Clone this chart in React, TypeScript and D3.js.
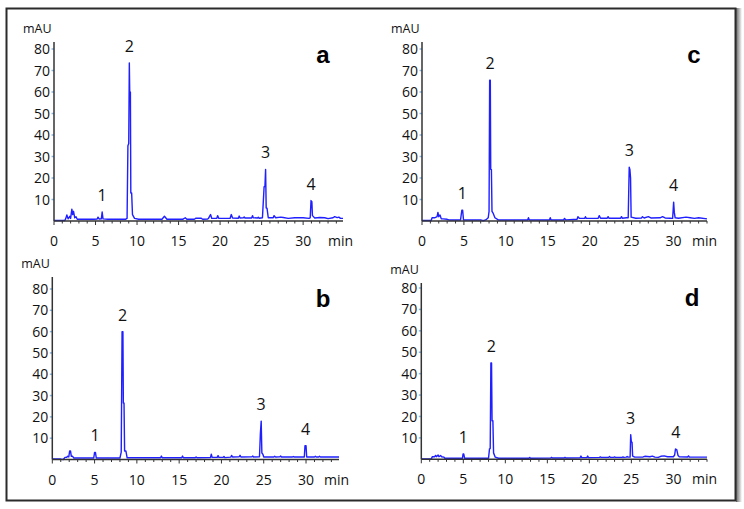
import React, { useEffect, useRef } from 'react';
import * as d3 from 'd3';

// Chromatogram traces: [time (min), absorbance (mAU)]
const traceA: [number, number][] = [
  [0, 0.2], [1.3, 0.2], [1.4, 1], [1.55, 2.8], [1.7, 1], [1.9, 2.2], [2.0, 1.2], [2.15, 5.5], [2.25, 3],
  [2.35, 4.5], [2.5, 1.5], [2.65, 2], [2.8, 0.8], [4.8, 0.8], [5.2, 0.9], [5.3, 1.8], [5.45, 0.9],
  [5.7, 1], [5.8, 4.2], [5.9, 1], [6.5, 0.8], [8.6, 0.8], [8.8, 1.2], [8.9, 35], [9.0, 36], [9.07, 73.5],
  [9.12, 60], [9.2, 60], [9.25, 13], [9.35, 13], [9.45, 3], [9.7, 1.2], [10.2, 0.8], [13.0, 0.8],
  [13.3, 2.2], [13.6, 0.8], [15.5, 0.8], [15.8, 1.5], [16.0, 0.8], [16.9, 0.8], [17.1, 1.3], [17.7, 1.3],
  [17.9, 0.8], [18.5, 0.9], [18.6, 1.2], [18.85, 3], [19.0, 1.2], [19.6, 1.2], [19.7, 2.5], [19.85, 1.2],
  [21.2, 1.2], [21.35, 3], [21.5, 1.4], [22.2, 1.3], [22.3, 2.3], [22.4, 1.4], [22.8, 1.5], [22.9, 1.9],
  [23.0, 1.4], [23.8, 1.4], [23.9, 2.5], [24.0, 1.5], [24.5, 1.4], [24.6, 1.8], [24.7, 1.3], [25.1, 1.5],
  [25.3, 16], [25.4, 16], [25.48, 24], [25.55, 6], [25.65, 6], [25.8, 1.5], [26.4, 1.5], [26.5, 2.5],
  [26.7, 1.5], [27.3, 1.8], [27.6, 1.6], [28.2, 1.2], [29, 1.5], [30, 1.5], [30.7, 1.2], [30.85, 1.5],
  [30.95, 9.5], [31.05, 9], [31.12, 2.5], [31.4, 1.4], [32, 1.6], [32.6, 1.5], [33, 1.1], [33.6, 1.5],
  [33.8, 2], [34.1, 1.6], [34.3, 1.8], [34.5, 1.2], [34.8, 1.2],
];

const traceB: [number, number][] = [
  [0, 0.2], [1.0, 0.2], [1.3, 0], [1.5, 1], [1.7, 1], [1.8, 1.5], [1.95, 1.2], [2.05, 4], [2.15, 4],
  [2.25, 1.5], [2.4, 1.5], [2.55, 0.7], [4.9, 0.7], [5.0, 3.3], [5.1, 3.3], [5.2, 0.7], [8.0, 0.7],
  [8.15, 3.5], [8.25, 60], [8.35, 60], [8.4, 26.5], [8.48, 26.5], [8.55, 4], [8.7, 4], [8.85, 0.8],
  [12.8, 0.8], [12.9, 1.6], [13.0, 0.8], [15.3, 0.8], [15.4, 1.6], [15.5, 0.8], [16.9, 0.8], [17.0, 1.2],
  [17.1, 0.8], [18.7, 0.9], [18.8, 2.5], [18.9, 1], [19.5, 1], [19.6, 1.8], [19.7, 1], [20.2, 1],
  [20.3, 1.4], [20.4, 0.9], [21.1, 1.1], [21.2, 1.9], [21.3, 1.2], [22.1, 1.3], [22.2, 2], [22.3, 1.2],
  [23.6, 1.3], [23.7, 1.6], [23.8, 1.2], [24.5, 1.3], [24.6, 12], [24.7, 18], [24.78, 3], [24.9, 2.5],
  [25.0, 1.2], [26.2, 1.2], [26.3, 1.5], [26.4, 1.2], [26.9, 1.3], [27.0, 1.6], [27.1, 1.2], [28.4, 1.2],
  [28.5, 1.4], [28.6, 1.2], [29.8, 1.2], [29.88, 6.5], [30.0, 6.5], [30.08, 1.2], [31.0, 1.2], [31.1, 1.5],
  [31.2, 1.2], [31.5, 1.2], [31.6, 1.5], [31.7, 1.2], [33.9, 1.2],
];

const traceC: [number, number][] = [
  [0, 0.2], [1.1, 0.2], [1.2, 1.5], [1.5, 1.5], [1.8, 2], [1.9, 4], [2.0, 2], [2.15, 2.8], [2.3, 1],
  [2.5, 1], [3.0, 0.8], [3.2, 0.5], [4.6, 0.5], [4.75, 5], [4.85, 5], [4.95, 0.5], [7.0, 0.5], [7.3, 0.1],
  [7.6, 0.5], [7.9, 1.5], [8.0, 4.5], [8.07, 65.5], [8.15, 65.5], [8.2, 24], [8.28, 24], [8.35, 4.5],
  [8.5, 3.5], [8.7, 1.5], [9.1, 0.5], [12.6, 0.5], [12.7, 1.5], [12.8, 0.5], [15.2, 0.5], [15.3, 1.5],
  [15.4, 0.5], [16.9, 0.5], [17.0, 1.2], [17.2, 0.5], [18.5, 0.8], [18.6, 2], [18.8, 1.2], [19.4, 1.2],
  [19.5, 2], [19.6, 1.2], [21.0, 1.2], [21.15, 2.5], [21.3, 1.3], [22.1, 1.3], [22.2, 2], [22.3, 1.3],
  [23.7, 1.3], [23.8, 2], [23.9, 1.3], [24.4, 1.5], [24.6, 1.5], [24.72, 25], [24.8, 24], [24.88, 20],
  [24.95, 1.8], [25.5, 1.3], [26.2, 1.4], [26.3, 2], [26.5, 1.4], [27.0, 2], [27.3, 1.4], [28.4, 1.5],
  [28.7, 2], [29, 1.4], [29.6, 1.3], [29.9, 1.2], [30.02, 8.8], [30.1, 4], [30.2, 1.5], [30.6, 1.3],
  [31.5, 1.8], [32, 1.5], [32.5, 1.2], [33, 1.5], [34, 1],
];

const traceD: [number, number][] = [
  [0, 0.2], [1.2, 0.2], [1.3, 1.2], [1.6, 1.2], [1.7, 1.8], [1.8, 1.2], [2.0, 2], [2.1, 1.2], [2.3, 1.8],
  [2.4, 1.2], [2.7, 1], [2.8, 0.5], [4.9, 0.5], [4.97, 2.5], [5.05, 2.5], [5.15, 0.5], [8.0, 0.5],
  [8.12, 5], [8.2, 5], [8.28, 45], [8.36, 45], [8.42, 18], [8.52, 18], [8.6, 3], [8.8, 1], [9.2, 0.5],
  [12.8, 0.5], [12.9, 0.9], [13.0, 0.5], [15.4, 0.6], [15.5, 0.9], [15.6, 0.6], [17.0, 0.6], [17.1, 0.9],
  [17.2, 0.6], [18.9, 0.7], [19.0, 1.5], [19.1, 0.8], [19.7, 0.8], [19.8, 1.5], [19.9, 0.8], [21.2, 0.9],
  [21.3, 1.1], [21.4, 0.9], [22.3, 0.9], [22.4, 1.3], [22.5, 0.9], [22.9, 0.9], [23.0, 1.1], [23.1, 0.9],
  [23.9, 0.9], [24.0, 1.1], [24.1, 0.9], [24.4, 1], [24.5, 1.3], [24.6, 1], [24.85, 1], [24.92, 11.5],
  [25.0, 8], [25.08, 8], [25.15, 1.5], [25.4, 1], [26.4, 1.1], [26.6, 1.4], [27.2, 1.2], [27.5, 1.5],
  [27.8, 1], [28.2, 0.9], [28.5, 1.4], [28.9, 1.6], [29.3, 1.2], [30.0, 1.2], [30.15, 2], [30.25, 4.8],
  [30.4, 4.5], [30.55, 1.8], [30.7, 1.2], [31.7, 1.1], [31.8, 1.6], [31.9, 1.1], [34, 1],
];

// Numbered peaks: [retention time, apex height]
const peaksA: [number, number][] = [[5.8, 4.2], [9.07, 73.5], [25.48, 24], [30.95, 9.5]];
const peaksB: [number, number][] = [[5.05, 3.3], [8.3, 60], [24.7, 18], [29.94, 6.5]];
const peaksC: [number, number][] = [[4.8, 5], [8.11, 65.5], [24.74, 25], [30.02, 8.8]];
const peaksD: [number, number][] = [[5.0, 2.5], [8.32, 45], [24.92, 11.5], [30.3, 4.8]];
const peakNames = ['1', '2', '3', '4'];

const xTicks = [0, 5, 10, 15, 20, 25, 30];
const yTicks = [10, 20, 30, 40, 50, 60, 70, 80];

// panel frames in page pixels
const panels = [
  { id: 'a', trace: traceA, peaks: peaksA, x0: 54, x1: 343, xMax: 34.8, yBase: 221, y80: 49, yTop: 42, letterX: 323, letterY: 63 },
  { id: 'b', trace: traceB, peaks: peaksB, x0: 52.3, x1: 339, xMax: 33.9, yBase: 459.5, y80: 289, yTop: 277, letterX: 323, letterY: 307 },
  { id: 'c', trace: traceC, peaks: peaksC, x0: 422, x1: 707, xMax: 34.0, yBase: 221, y80: 49, yTop: 42, letterX: 694, letterY: 63 },
  { id: 'd', trace: traceD, peaks: peaksD, x0: 421.3, x1: 707, xMax: 34.0, yBase: 459.3, y80: 288, yTop: 283, letterX: 692, letterY: 306 },
];

const W = 744;
const H = 509;
const tickFont = '"Open Sans", "Noto Sans", sans-serif';

export default function App() {
  const ref = useRef<SVGSVGElement | null>(null);

  useEffect(() => {
    document.body.style.margin = '0';
    const svg = d3.select(ref.current);
    svg.selectAll('*').remove();

    svg.append('rect').attr('width', W).attr('height', H).attr('fill', '#fff');

    // right-hand shadow of the frame
    const grad = svg.append('defs').append('linearGradient').attr('id', 'shade');
    grad.append('stop').attr('offset', '0%').attr('stop-color', '#666');
    grad.append('stop').attr('offset', '100%').attr('stop-color', '#fff');
    svg.append('rect').attr('x', 736).attr('y', 8).attr('width', 6).attr('height', 494).attr('fill', 'url(#shade)');

    // outer frame
    svg.append('rect')
      .attr('x', 6.5).attr('y', 8.5).attr('width', 729).attr('height', 492)
      .attr('fill', 'none').attr('stroke', '#2b2b2b').attr('stroke-width', 2);

    panels.forEach((p) => {
      const x = d3.scaleLinear().domain([0, p.xMax]).range([p.x0, p.x1]);
      const y = d3.scaleLinear().domain([0, 80]).range([p.yBase, p.y80]);
      const g = svg.append('g');

      // y ticks and labels
      yTicks.forEach((v) => {
        g.append('line')
          .attr('x1', p.x0 - 2.5).attr('x2', p.x0)
          .attr('y1', y(v)).attr('y2', y(v))
          .attr('stroke', '#8ab8e6').attr('stroke-width', 1.5);
        g.append('text')
          .attr('x', p.x0 - 4).attr('y', y(v))
          .attr('dy', '0.36em')
          .attr('text-anchor', 'end')
          .attr('font-family', tickFont).attr('font-size', 14).attr('fill', '#111')
          .text(v);
      });

      // x minor/major ticks
      d3.range(0, Math.floor(p.xMax) + 1).forEach((t) => {
        g.append('line')
          .attr('x1', x(t)).attr('x2', x(t))
          .attr('y1', p.yBase).attr('y2', p.yBase + (t % 5 === 0 ? 4 : 2.5))
          .attr('stroke', '#333').attr('stroke-width', 1);
      });
      xTicks.forEach((t) => {
        g.append('text')
          .attr('x', x(t)).attr('y', p.yBase + 25)
          .attr('text-anchor', 'middle')
          .attr('font-family', tickFont).attr('font-size', 14).attr('fill', '#111')
          .text(t);
      });
      g.append('text')
        .attr('x', p.x1 - 15).attr('y', p.yBase + 25)
        .attr('font-family', tickFont).attr('font-size', 14).attr('fill', '#111')
        .text('min');
      g.append('text')
        .attr('x', p.x0 - 31).attr('y', p.yTop - 9)
        .attr('font-family', tickFont).attr('font-size', 12.5).attr('fill', '#111')
        .text('mAU');

      // the trace
      const line = d3.line<[number, number]>().x((d) => x(d[0])).y((d) => y(d[1]));
      g.append('path')
        .datum(p.trace)
        .attr('d', line)
        .attr('fill', 'none')
        .attr('stroke', '#1f1fff')
        .attr('stroke-width', 1.4)
        .attr('stroke-linejoin', 'round');

      // axes
      g.append('line')
        .attr('x1', p.x0).attr('x2', p.x0).attr('y1', p.yTop).attr('y2', p.yBase)
        .attr('stroke', '#333').attr('stroke-width', 1.5);
      g.append('line')
        .attr('x1', p.x0).attr('x2', p.x1).attr('y1', p.yBase).attr('y2', p.yBase)
        .attr('stroke', '#333').attr('stroke-width', 1.5);

      // peak numbers
      p.peaks.forEach((pk, i) => {
        g.append('text')
          .attr('x', x(pk[0])).attr('y', y(pk[1]) - 11)
          .attr('text-anchor', 'middle')
          .attr('font-family', tickFont).attr('font-size', 16).attr('fill', '#111')
          .text(peakNames[i]);
      });

      // panel letter
      g.append('text')
        .attr('x', p.letterX).attr('y', p.letterY)
        .attr('text-anchor', 'middle')
        .attr('font-family', '"Liberation Sans", Arial, sans-serif')
        .attr('font-weight', 'bold').attr('font-size', 24).attr('fill', '#000')
        .text(p.id);
    });
  }, []);

  return <svg ref={ref} width={W} height={H} style={{ display: 'block' }} />;
}
